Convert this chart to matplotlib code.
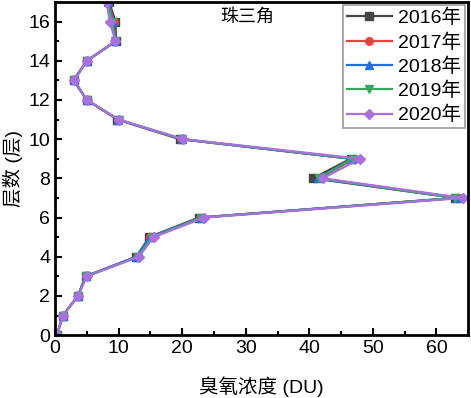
import numpy as np
import matplotlib.pyplot as plt
from matplotlib.ticker import MultipleLocator

plt.rcParams['font.family'] = ['Liberation Sans', 'Noto Sans CJK SC']

levels = np.arange(0, 19)
o3_2016 = [0.3, 1.2, 3.6, 4.8, 12.8, 14.8, 22.6, 63.0, 40.6, 46.5, 19.6, 9.8, 5.0, 2.9, 5.0, 9.6, 9.5, 8.5, 8.0]
o3_2017 = [0.3, 1.2, 3.6, 4.8, 12.9, 15.0, 22.8, 63.6, 41.8, 47.0, 19.8, 9.9, 5.0, 2.9, 5.0, 9.5, 9.2, 8.4, 7.9]
o3_2018 = [0.3, 1.2, 3.6, 4.8, 12.8, 14.9, 22.9, 63.2, 41.3, 46.7, 19.9, 9.9, 5.0, 2.9, 5.0, 9.5, 9.1, 8.3, 7.8]
o3_2019 = [0.3, 1.2, 3.6, 4.9, 13.0, 15.2, 23.0, 63.0, 41.5, 46.8, 20.0, 10.0, 5.0, 3.0, 5.0, 9.5, 9.0, 8.2, 7.8]
o3_2020 = [0.3, 1.2, 3.6, 5.0, 13.2, 15.5, 23.5, 64.2, 42.1, 48.0, 20.2, 10.0, 5.0, 3.0, 5.0, 9.5, 8.6, 8.1, 7.6]

years = ['2016年', '2017年', '2018年', '2019年', '2020年']
series = [o3_2016, o3_2017, o3_2018, o3_2019, o3_2020]
colors = ['#454545', '#f04040', '#2070e0', '#38a860', '#a870e0']
markers = ['s', 'o', '^', 'v', 'D']

fig = plt.figure(figsize=(4.71, 3.98), dpi=100)
ax = fig.add_axes([0.117, 0.158, 0.877, 0.837])

for vals, c, m, lab in zip(series, colors, markers, years):
    ax.plot(vals, levels, color=c, marker=m, markersize=5.5, linewidth=1.6, label=lab)

ax.set_xlim(0, 65)
ax.set_ylim(0, 17)
ax.xaxis.set_major_locator(MultipleLocator(10))
ax.xaxis.set_minor_locator(MultipleLocator(5))
ax.yaxis.set_major_locator(MultipleLocator(2))
ax.yaxis.set_minor_locator(MultipleLocator(1))
ax.tick_params(which='both', direction='in', width=1.5, labelsize=14)
ax.tick_params(which='major', length=5)
ax.tick_params(which='minor', length=3)
for s in ax.spines.values():
    s.set_linewidth(2)

ax.set_xlabel('臭氧浓度 (DU)', fontsize=14, labelpad=14)
ax.set_ylabel('层数 (层)', fontsize=14, labelpad=4)
ax.text(30.3, 16.2, '珠三角', fontsize=13, ha='center', va='center')

leg = ax.legend(loc='upper right', fontsize=14, fancybox=False, edgecolor='#808080',
                handlelength=2.3, borderaxespad=0.15, labelspacing=0.3,
                handletextpad=0.35, borderpad=0.2)
leg.get_frame().set_linewidth(1.2)

fig.savefig('out.png', dpi=100)
